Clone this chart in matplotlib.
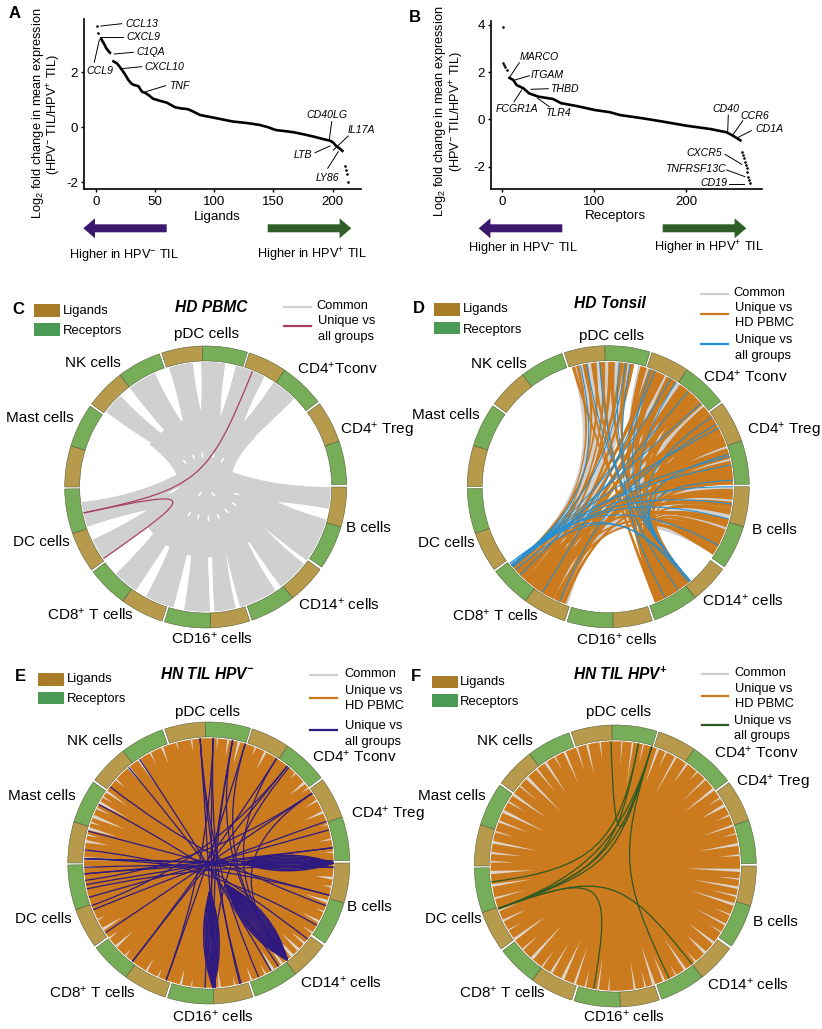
import numpy as np
import matplotlib
matplotlib.use('Agg')
import matplotlib.pyplot as plt
from matplotlib.path import Path
from matplotlib.patches import PathPatch, Wedge, Circle, Rectangle, FancyArrow, Ellipse, Polygon

plt.rcParams['font.family'] = ['Liberation Sans', 'DejaVu Sans']
plt.rcParams['mathtext.fontset'] = 'custom'
plt.rcParams['mathtext.rm'] = 'Liberation Sans'
plt.rcParams['mathtext.it'] = 'Liberation Sans:italic'
plt.rcParams['mathtext.bf'] = 'Liberation Sans:bold'
plt.rcParams['mathtext.default'] = 'regular'
plt.rcParams['axes.unicode_minus'] = False

W, H = 822, 1029

# panel A, B values
ligand_top_x = [1, 2.2]
ligand_top_y = [3.70, 3.43]
ligand_x1 = [4, 5, 6, 7, 8, 9, 10, 11, 12, 13]
ligand_y1 = [3.25, 3.2, 3.12, 3.05, 2.96, 2.88, 2.82, 2.77, 2.72, 2.7]
ligand_x2 = [14, 16, 18, 20, 22, 24, 26, 27.5, 30, 32, 36, 39, 42, 44.5, 48.5, 54, 60, 67, 72, 78, 83, 88, 95,
             102, 110, 116, 127, 138, 145, 152, 160, 167, 176, 184, 192, 198, 200.5, 203, 206, 209]
ligand_y2 = [2.43, 2.38, 2.33, 2.22, 2.1, 1.98, 1.84, 1.73, 1.6, 1.55, 1.5, 1.3, 1.25, 1.18, 1.04, 0.97, 0.9, 0.73,
             0.69, 0.66, 0.56, 0.45, 0.39, 0.33, 0.26, 0.21, 0.16, 0.09, 0.01, -0.1, -0.14, -0.18, -0.26, -0.34,
             -0.43, -0.49, -0.56, -0.68, -0.78, -0.89]
ligand_end_x = [210, 211, 212, 213]
ligand_end_y = [-1.41, -1.56, -1.7, -1.98]

receptor_top_x = [0.4, 1, 2, 3, 5]
receptor_top_y = [3.9, 2.37, 2.28, 2.2, 2.08]
receptor_x = [6.5, 12, 15.5, 23, 29, 39, 55, 64, 81, 101, 117, 128, 153, 175, 200, 226, 244, 251, 256, 260]
receptor_y = [1.78, 1.66, 1.45, 1.31, 1.1, 0.96, 0.86, 0.68, 0.56, 0.39, 0.3, 0.18, 0.04, -0.1, -0.27, -0.41,
              -0.55, -0.7, -0.82, -0.92]
receptor_end_x = [261, 262, 263, 264, 265, 266, 266.5, 267, 268, 269]
receptor_end_y = [-1.38, -1.5, -1.65, -1.8, -1.93, -2.08, -2.21, -2.42, -2.55, -2.68]

# chord rings, angles clockwise from the top
cell_types = ['pDC cells', 'CD4+ Tconv', 'CD4+ Treg', 'B cells', 'CD14+ cells', 'CD16+ cells', 'CD8+ T cells',
              'DC cells', 'Mast cells', 'NK cells']
sector_start = [341.8, 18.0, 53.8, 90.0, 125.8, 161.8, 198.0, 234.0, 270.0, 306.0]
sector_split = [358.6, 34.0, 71.0, 106.5, 142.0, 178.0, 216.0, 250.7, 287.0, 322.6]
sector_end = [17.2, 52.8, 89.0, 124.6, 160.8, 197.0, 233.0, 269.2, 305.0, 340.8]

# ribbons: from a1..a2 to b1..b2
c_common = [(307, 317, 90, 100), (322.5, 336, 105, 126), (343, 354, 128, 143), (358, 369, 146, 164),
            (374, 388, 166, 176), (393, 405, 251.5, 263), (393, 405, 235, 245), (374, 388, 214, 226),
            (358, 369, 195, 208.6), (343, 354, 178, 190), (90, 100, 251.5, 263)]
c_core = [(307, 405, 126, 235)]
c_unique = [(22, 258), (235, 258)]
# small holes near the middle of the common bundle: angle, radius
c_slit_angle = [320, 338, 354, 13.5, 32, 218, 134, 103, 121, 211, 194, 175, 157, 139]
c_slit_radius = [0.234, 0.23, 0.227, 0.232, 0.224, 0.065, 0.075, 0.225, 0.236, 0.225, 0.216, 0.222, 0.228, 0.225]

d_common = [(343, 358, 218, 231), (358, 372, 199, 218), (374, 410, 139, 150), (412, 448, 150, 158),
            (450, 483, 205, 225)]
d_orange = [(345, 346.5, 228, 229), (349, 350.5, 224, 225), (353, 354.5, 229, 231), (357, 358.5, 222, 224), (360, 362, 218, 220),
            (365, 367, 226, 228), (370, 372, 214, 217), (379, 382, 220, 222), (384, 387, 216, 218), (389, 393, 210, 213),
            (395, 398, 206, 208), (400, 404, 212, 215), (406, 409, 203, 205), (414, 419, 208, 211), (420, 424, 218, 221),
            (425, 431, 202, 205), (432, 437, 214, 217), (438, 444, 207, 210), (444, 449, 224, 227), (451, 454, 200, 202),
            (457, 460, 212, 214), (343, 344.5, 150, 152), (348, 349.5, 156, 158), (352, 353.5, 146, 148), (356, 357.5, 152, 154),
            (361, 363, 141, 143), (367, 369, 148, 150), (375, 378, 154, 157), (381, 385, 144, 147), (388, 392, 151, 154),
            (396, 400, 139, 142), (402, 406, 146, 149), (410, 414, 155, 158), (415, 420, 142, 145), (421, 425, 149, 152),
            (426, 431, 139, 142), (433, 437, 153, 156), (439, 444, 144, 147), (445, 449, 150, 153), (452, 456, 139, 141),
            (460, 463, 146, 149), (465, 468, 153, 156), (470, 473, 143, 145), (475, 478, 149, 151), (480, 483, 140, 143),
            (466, 469, 220, 222), (472, 475, 210, 212), (477, 480, 204, 206)]
# first angle is the hub the lines gather at
d_unique = [(231, 347), (231, 8), (231, 30), (231, 48), (231, 62), (231, 90), (230, 98), (230, 76), (225, 40),
            (212, 22), (203, 60), (139, 5), (139, 20), (139, 33), (139, 56), (139, 75), (139, 87), (139, 350),
            (140, 232), (139, 228), (146, 356), (153, 10), (232, 118), (230, 105), (231, 80)]

# grey spikes left by the orange links at the rim: angle, width, how far in
e_spike_angle = [4, 9, 14, 22, 27, 44, 50, 53, 60, 66, 72, 79, 85, 97, 101, 108, 113, 118, 124, 130, 134, 138, 144,
                 149, 153, 160, 168, 175, 188, 193, 204, 210, 222, 228, 233, 238, 243, 268, 272, 276, 280, 283, 286,
                 289, 292, 296, 299, 302, 305, 312, 320, 326, 332, 338, 345, 352]
e_spike_width = [1.2, 1.8, 2.4, 1.5, 2.2, 1.4, 2.6, 1.3, 1.7, 2.3, 1.2, 1.6, 1.3, 2.4, 1.5, 2.7, 1.4, 2.2, 1.5, 2.0, 2.8,
                 3.0, 2.4, 2.6, 1.5, 1.8, 1.2, 2.0, 1.3, 2.1, 1.4, 1.8, 1.5, 2.4, 1.6, 2.6, 1.3, 1.8, 2.8, 1.2, 2.4,
                 1.6, 2.6, 1.4, 2.9, 1.7, 2.5, 1.3, 2.2, 1.5, 2.6, 2.8, 1.4, 1.9, 1.2, 1.6]
e_spike_inner = [0.8, 0.76, 0.72, 0.82, 0.74, 0.83, 0.75, 0.82, 0.78, 0.74, 0.83, 0.79, 0.82, 0.76, 0.82, 0.72, 0.82,
                 0.75, 0.8, 0.76, 0.72, 0.68, 0.72, 0.72, 0.8, 0.78, 0.82, 0.76, 0.83, 0.77, 0.82, 0.78, 0.82, 0.72,
                 0.8, 0.72, 0.82, 0.78, 0.52, 0.82, 0.72, 0.8, 0.68, 0.8, 0.64, 0.78, 0.66, 0.8, 0.7, 0.8, 0.7, 0.66,
                 0.8, 0.76, 0.82, 0.8]
f_spike_angle = [3, 8, 13, 20, 24, 29, 35, 41, 46, 52, 57, 61, 66, 71, 75, 80, 85, 92, 96, 100, 104, 108, 113, 118, 122,
                 128, 134, 140, 146, 151, 157, 162, 166, 171, 183, 188, 194, 199, 205, 211, 216, 222, 228, 234, 239, 244,
                 249, 255, 261, 267, 272, 276, 281, 286, 291, 296, 301, 305, 310, 315, 321, 326, 331, 336, 342, 347, 353]
f_spike_width = [1.0, 1.5, 1.2, 2.2, 1.4, 1.8, 2.0, 1.2, 1.6, 2.5, 1.3, 2.8, 1.4, 2.0, 1.2, 2.4, 1.6, 2.8, 1.3, 2.2, 1.6,
                 2.4, 1.3, 1.8, 1.2, 2.4, 2.8, 1.5, 2.4, 1.2, 2.0, 2.8, 1.4, 1.8, 1.3, 1.7, 1.4, 2.2, 2.9, 2.3, 1.4, 2.8,
                 1.6, 2.6, 1.2, 2.0, 1.4, 1.8, 2.4, 2.8, 1.5, 1.9, 2.4, 1.4, 2.0, 2.8, 1.5, 2.6, 1.3, 2.9, 1.8, 2.4, 1.2,
                 2.2, 1.6, 2.0, 1.4]
f_spike_inner = [0.7, 0.58, 0.74, 0.62, 0.76, 0.58, 0.72, 0.8, 0.66, 0.62, 0.78, 0.7, 0.78, 0.66, 0.78, 0.6, 0.74, 0.5,
                 0.72, 0.55, 0.7, 0.56, 0.76, 0.64, 0.78, 0.66, 0.7, 0.78, 0.62, 0.8, 0.68, 0.6, 0.76, 0.68, 0.78, 0.66,
                 0.76, 0.6, 0.58, 0.64, 0.74, 0.56, 0.74, 0.6, 0.78, 0.7, 0.74, 0.66, 0.6, 0.58, 0.72, 0.66, 0.56, 0.74,
                 0.66, 0.56, 0.74, 0.6, 0.72, 0.55, 0.68, 0.62, 0.78, 0.64, 0.7, 0.66, 0.76]

e_unique = [(326.3, 150), (307.7, 110), (284.8, 105), (272, 92), (265, 83), (258, 92), (254, 74.6), (248, 70.5),
            (236, 56), (217.8, 39), (217.8, 33), (200, 17), (181.7, 11), (165.6, 2), (156.4, 356), (146, 320),
            (127.6, 298), (120, 276), (177, 40), (141, 11), (141, 17), (141, 33), (141, 56), (177, 2), (177, 356),
            (89, 272), (90, 265), (83, 260), (105, 272), (92, 268), (2, 200), (356, 165), (11, 177), (39, 250), (56, 262)]
# tight bundles: rim angle, pinch radius, side offsets of the curve
e_bundles = [(90, 0.23, [-0.11, -0.09, -0.07, -0.05, -0.03, -0.01, 0.01, 0.03, 0.05, 0.07, 0.09, 0.11]),
             (141, 0.2, [-0.15, -0.13, -0.11, -0.09, -0.07, -0.05, -0.03, -0.01, 0.01, 0.03, 0.05, 0.07, 0.09, 0.11, 0.13, 0.15]),
             (178, 0.2, [-0.11, -0.09, -0.07, -0.05, -0.03, -0.01, 0.01, 0.03, 0.05, 0.07, 0.09, 0.11])]
# third entry: how soft the curve is
f_unique = [(250, 17, 0.03), (250, 17, 0.12), (250, 17, 0.24), (250, 10.7, 0.1), (262.7, 10.7, 0.18), (358, 17, 0.1),
            (17, 154.4, 0.1), (250, 142, 0.1), (250, 190, 0.1)]

GOLD = '#B89A4C'
GREEN = '#75AD58'
LEG_GOLD = '#A87C28'
LEG_GREEN = '#4B9B55'
GREY = '#D0D0D0'
SPIKE = '#DDD5CB'
ORANGE = '#CB7A1E'
MAROON = '#A83F62'
BLUE = '#2090D8'
PURPLE = '#2E1A80'
DARKGREEN = '#2C5A22'
RIM = 0.885
LAM_LINE = 0.06
LAM_RIBBON = 0.3


def polar(a, r=RIM):
    t = np.radians(a)
    return np.array([r * np.sin(t), r * np.cos(t)])


def link_segment(a, b, r=RIM, lam=LAM_LINE, lam_b=None):
    p0, p3 = polar(a, r), polar(b, r)
    return [lam * p0, (lam if lam_b is None else lam_b) * p3, p3]


def ribbon_patch(a1, a2, b1, b2, color, r=RIM, z=1):
    lam = LAM_RIBBON
    verts = [polar(a, r) for a in np.linspace(a1, a2, 12)]
    codes = [Path.MOVETO] + [Path.LINETO] * 11
    verts += link_segment(a2, b1, r, lam)
    codes += [Path.CURVE4] * 3
    verts += [polar(a, r) for a in np.linspace(b1, b2, 12)[1:]]
    codes += [Path.LINETO] * 11
    verts += link_segment(b2, a1, r, lam)
    codes += [Path.CURVE4] * 3
    verts.append(polar(a1, r))
    codes.append(Path.CLOSEPOLY)
    return PathPatch(Path(verts, codes), facecolor=color, edgecolor=color, lw=0, zorder=z, clip_on=False)


def draw_chord(cx, cy, R=141.0):
    r = R * 1.03
    ax = fig.add_axes([(cx - r) / W, 1 - (cy + r) / H, 2 * r / W, 2 * r / H])
    ax.set_xlim(-1.03, 1.03)
    ax.set_ylim(-1.03, 1.03)
    ax.axis('off')
    for s, m, e in zip(sector_start, sector_split, sector_end):
        for a, b, col in [(s, m, GOLD), (m, e, GREEN)]:
            ax.add_patch(Wedge((0, 0), 1.0, 90 - b, 90 - a, width=0.106, facecolor=col,
                               edgecolor='#56603a', lw=0.4, zorder=3))
    return ax


def draw_lines(ax, pairs, color, lw=0.9, lam=LAM_LINE, lam_b=None):
    for pair in pairs:
        a, b = pair[0], pair[1]
        soft = pair[2] if len(pair) > 2 else lam
        path = Path([polar(a)] + link_segment(a, b, RIM, soft, lam_b),
                    [Path.MOVETO, Path.CURVE4, Path.CURVE4, Path.CURVE4])
        ax.add_patch(PathPatch(path, facecolor='none', edgecolor=color, lw=lw, zorder=5))


def draw_bundle(ax, bundles, color, lw=0.9):
    for a, pinch, offsets in bundles:
        p0, p1 = polar(a), polar(a, pinch)
        mid = (p0 + p1) / 2
        side = np.array([p0[1], -p0[0]]) / RIM
        for off in offsets:
            path = Path([p0, mid + side * off, p1], [Path.MOVETO, Path.CURVE3, Path.CURVE3])
            ax.add_patch(PathPatch(path, facecolor='none', edgecolor=color, lw=lw, zorder=5))


def draw_filled(ax, angles, widths, inners, thin=0.55):
    ax.add_patch(Circle((0, 0), RIM, facecolor=ORANGE, edgecolor='none', zorder=1))
    for a, w, r in zip(angles, widths, inners):
        w = w * thin
        ax.add_patch(Polygon([polar(a - w / 2), polar(a + w / 2), polar(a, r)], closed=True, facecolor=SPIKE,
                             edgecolor='none', zorder=2))


fig = plt.figure(figsize=(W / 100, H / 100), dpi=100)
fig.patch.set_facecolor('white')


def curve_axes(box, xlim, ylim, xticks, yticks):
    x0, y0, x1, y1 = box
    ax = fig.add_axes([x0 / W, 1 - y1 / H, (x1 - x0) / W, (y1 - y0) / H])
    ax.set_xlim(*xlim)
    ax.set_ylim(*ylim)
    ax.set_xticks(xticks)
    ax.set_yticks(yticks)
    ax.tick_params(labelsize=9.6, length=2.5, width=1.0, pad=2)
    for s in ['top', 'right']:
        ax.spines[s].set_visible(False)
    for s in ['left', 'bottom']:
        ax.spines[s].set_linewidth(1.2)
    return ax


axA = curve_axes((84, 19, 360.7, 189.3), (-9.9, 223.6), (-2.26, 3.95), [0, 50, 100, 150, 200], [-2, 0, 2])
axA.plot(ligand_x1, ligand_y1, color='black', lw=1.9, solid_capstyle='butt')
axA.plot(ligand_x2, ligand_y2, color='black', lw=1.9, solid_capstyle='butt')
axA.scatter(ligand_top_x + ligand_end_x, ligand_top_y + ligand_end_y, s=3.5, color='black', lw=0)

axB = curve_axes((491, 20.7, 761.7, 189.3), (-12.3, 282), (-2.96, 4.17), [0, 100, 200], [-2, 0, 2, 4])
axB.plot(receptor_x, receptor_y, color='black', lw=1.9, solid_capstyle='butt')
axB.scatter(receptor_top_x + receptor_end_x, receptor_top_y + receptor_end_y, s=3.5, color='black', lw=0)

# C
axC = draw_chord(205.7, 487)
for a1, a2, b1, b2 in c_core:
    axC.add_patch(ribbon_patch(a1, a2, b1, b2, GREY, r=0.5))
for a1, a2, b1, b2 in c_common:
    axC.add_patch(ribbon_patch(a1, a2, b1, b2, GREY))
for a, r in zip(c_slit_angle, c_slit_radius):
    axC.add_patch(Ellipse(polar(a, r), 0.012, 0.042, angle=-a, facecolor='white', edgecolor='none', zorder=2))
draw_lines(axC, c_unique, MAROON, 0.9)

# D
axD = draw_chord(608.3, 486.7)
for a1, a2, b1, b2 in d_common:
    axD.add_patch(ribbon_patch(a1, a2, b1, b2, GREY))
for a1, a2, b1, b2 in d_orange:
    axD.add_patch(ribbon_patch(a1, a2, b1, b2, ORANGE, z=2))
draw_lines(axD, d_unique, BLUE, 0.75, lam=0.42, lam_b=0.05)

# E
axE = draw_chord(208.8, 863)
draw_filled(axE, e_spike_angle, e_spike_width, e_spike_inner)
draw_lines(axE, e_unique, PURPLE, 0.9, lam=0.3)
draw_bundle(axE, e_bundles, PURPLE, 1.1)

# F
axF = draw_chord(615.3, 866)
draw_filled(axF, f_spike_angle, f_spike_width, f_spike_inner)
draw_lines(axF, f_unique, DARKGREEN, 0.9)

# overlay in pixel coordinates for labels and legends
ov = fig.add_axes([0, 0, 1, 1])
ov.set_xlim(0, W)
ov.set_ylim(H, 0)
ov.axis('off')
ov.patch.set_alpha(0)
ov.set_zorder(10)


def txt(x, y, s, size=11, ha='left', **kw):
    ov.text(x, y, s, fontsize=size, ha=ha, va='center', **kw)


for x, y, s in [(15, 14, 'A'), (415, 17.3, 'B'), (18, 310, 'C'), (419.3, 308.3, 'D'), (20.7, 676.7, 'E'), (416, 676.7, 'F')]:
    txt(x, y, s, 12, ha='center', fontweight='bold')

# axis titles
LOG2 = 'Log$_2$ fold change in mean expression'
RATIO = '(HPV$^{-}$ TIL/HPV$^{+}$ TIL)'
txt(38, 113.7, LOG2, 9.2, ha='center', rotation=90)
txt(53.8, 114, RATIO, 9.2, ha='center', rotation=90)
txt(439.7, 111.7, LOG2, 9.2, ha='center', rotation=90)
txt(457, 111.7, RATIO, 9.2, ha='center', rotation=90)
txt(217.3, 217.3, 'Ligands', 9.6, ha='center')
txt(615.3, 215.7, 'Receptors', 9.6, ha='center')

NEG = 'Higher in HPV$^{-}$ TIL'
POS = 'Higher in HPV$^{+}$ TIL'
for tail, tip, col in [(166.7, 83.3, '#3B1A6E'), (267.7, 351.3, '#2F5F27'), (562.3, 478.7, '#3B1A6E'), (662.7, 746.3, '#2F5F27')]:
    ov.add_patch(FancyArrow(tail, 228.3, tip - tail, 0, width=8, head_width=20, head_length=11.7,
                            length_includes_head=True, facecolor=col, edgecolor='none'))
txt(69.3, 255, NEG, 9.2)
txt(256.7, 255, POS, 9.2)
txt(468, 247.7, NEG, 9.2)
txt(654.3, 247.7, POS, 9.2)

# gene labels: name, text position, leader line
genes = [('CCL13', 125, 24, 101, 26, 121.7, 23.7), ('CXCL9', 126, 37.3, 100, 37.3, 123.3, 37.3),
         ('C1QA', 136.7, 52, 114.3, 54, 133.3, 52.3), ('CXCL10', 144, 67.3, 120.7, 68.7, 141.7, 66.7),
         ('TNF', 169, 86, 145.7, 91.7, 165.7, 85.7), ('CCL9', 86, 70.7, 99.3, 40, 94.3, 62.3),
         ('CD40LG', 306.7, 115.3, 331.7, 121.7, 329.3, 140), ('IL17A', 347.3, 130, 348.3, 136, 333.3, 150),
         ('LTB', 294, 155, 315, 152.7, 330, 146), ('LY86', 315.3, 177.7, 327.7, 168.3, 338.3, 151.7),
         ('MARCO', 520, 57.3, 510, 76.7, 519.3, 62.7), ('ITGAM', 531, 75.3, 515, 80, 529.3, 75.7),
         ('THBD', 550, 89, 531, 89.3, 548.3, 88.7), ('FCGR1A', 495.3, 109, 521.7, 90, 514, 101.7),
         ('TLR4', 545.3, 112.7, 537.7, 98.3, 549.3, 106.7), ('CD40', 712, 109.3, 728.3, 115, 727.7, 131),
         ('CCR6', 740.7, 116, 742.7, 120.7, 733.3, 134.3), ('CD1A', 755.7, 129.3, 751.3, 130.7, 738.3, 137.3),
         ('CXCR5', 686, 153.3, 725, 154.3, 741.7, 164.3), ('TNFRSF13C', 665.3, 169.3, 726.7, 170, 745, 176.7),
         ('CD19', 700.7, 183.3, 729.3, 183.7, 744.3, 183.7)]
for name, tx, ty, x0, y0, x1, y1 in genes:
    txt(tx, ty, name, 7.6, fontstyle='italic')
    ov.plot([x0, x1], [y0, y1], color='black', lw=0.7)

# chord headers
panels = {
    'C': dict(title='HD PBMC', tx=211.7, ty=307.7, gold=(34.3, 304.3, 317.3), green=(34.3, 322.7, 335.7),
              lig=(62.7, 310.7), rec=(62.7, 331), lx=(284, 310.7),
              lines=[(306.7, GREY), (325.7, MAROON)],
              texts=[(316.7, 305.7, 'Common'), (317.5, 321, 'Unique vs'), (317.5, 337, 'all groups')]),
    'D': dict(title='HD Tonsil', tx=610, ty=303.3, gold=(434.3, 303.3, 316), green=(434.3, 321.7, 334.3),
              lig=(462.7, 309.3), rec=(462.7, 329.7), lx=(701, 727.7),
              lines=[(294.3, GREY), (314.3, ORANGE), (344, BLUE)],
              texts=[(733.5, 293.3, 'Common'), (735, 307.7, 'Unique vs'), (735, 322.7, 'HD PBMC'), (735, 340, 'Unique vs'),
                     (735, 356, 'all groups')]),
    'E': dict(title='HN TIL HPV$^{-}$', tx=207.3, ty=674.3, gold=(38.3, 673.3, 686), green=(38.3, 691.7, 704.3),
              lig=(66.7, 679), rec=(66.7, 699.3), lx=(310, 336.7),
              lines=[(675, GREY), (698.3, ORANGE), (730.3, PURPLE)],
              texts=[(344, 674.3, 'Common'), (345, 690.7, 'Unique vs'), (345, 706.3, 'HD PBMC'), (345, 726, 'Unique vs'),
                     (345, 742, 'all groups')]),
    'F': dict(title='HN TIL HPV$^{+}$', tx=620, ty=674.3, gold=(431.7, 675.7, 688.3), green=(431.7, 694, 706.7),
              lig=(460, 681.7), rec=(460, 702), lx=(701.7, 728.3),
              lines=[(673.7, GREY), (696.3, ORANGE), (724.7, DARKGREEN)],
              texts=[(734.7, 672.7, 'Common'), (735, 688.7, 'Unique vs'), (735, 704.3, 'HD PBMC'), (734, 720.7, 'Unique vs'),
                     (734, 736.3, 'all groups')]),
}
for p in panels.values():
    txt(p['tx'], p['ty'], p['title'], 11.2, ha='center', fontweight='bold', fontstyle='italic', math_fontfamily='custom')
    x, y0, y1 = p['gold']
    ov.add_patch(Rectangle((x, y0), 26, y1 - y0, facecolor=LEG_GOLD, edgecolor='none'))
    x, y0, y1 = p['green']
    ov.add_patch(Rectangle((x, y0), 26, y1 - y0, facecolor=LEG_GREEN, edgecolor='none'))
    txt(p['lig'][0], p['lig'][1], 'Ligands', 9.4)
    txt(p['rec'][0], p['rec'][1], 'Receptors', 9.4)
    for y, col in p['lines']:
        ov.plot(p['lx'], [y, y], color=col, lw=1.6)
    for x, y, s in p['texts']:
        txt(x, y, s, 9.3)

# sector labels
C_POS = [(206, 334.3, 'center'), (296.7, 368.3, 'left'), (340, 430.7, 'left'), (346, 528.3, 'left'), (298.3, 604.3, 'left'),
         (211.7, 638.3, 'center'), (134, 615, 'right'), (70, 541.7, 'right'), (74, 418.3, 'right'), (120.7, 362.7, 'right')]
D_POS = [(611.7, 335.7, 'center'), (702.7, 376.7, 'left'), (746.7, 430.7, 'left'), (751.7, 530, 'left'), (701.7, 600.7, 'left'),
         (617.3, 640, 'center'), (539.3, 616, 'right'), (475, 543.3, 'right'), (479.3, 415, 'right'), (526.7, 364.3, 'right')]
E_POS = [(207.7, 711.7, 'center'), (311.7, 756.7, 'left'), (350.7, 815, 'left'), (347.3, 906.7, 'left'), (300, 982.3, 'left'),
         (213.3, 1016.7, 'center'), (135.7, 992.7, 'right'), (71.3, 919.3, 'right'), (75.7, 796, 'right'), (122.3, 740.7, 'right')]
F_POS = [(618.3, 711.7, 'center'), (714.3, 752.7, 'left'), (736, 782.7, 'left'), (752.7, 922.3, 'left'), (706.7, 985, 'left'),
         (623.7, 1016.7, 'center'), (546, 992.7, 'right'), (481.7, 919.3, 'right'), (486, 796, 'right'), (532.7, 740.7, 'right')]
for pos in [C_POS, D_POS, E_POS, F_POS]:
    for (x, y, ha), name in zip(pos, cell_types):
        label = name.replace('+', '$^{+}$')
        if pos is C_POS:
            label = label.replace('$ Tconv', '$Tconv')
        txt(x, y, label, 11, ha=ha)

fig.savefig('out.png', dpi=100)
